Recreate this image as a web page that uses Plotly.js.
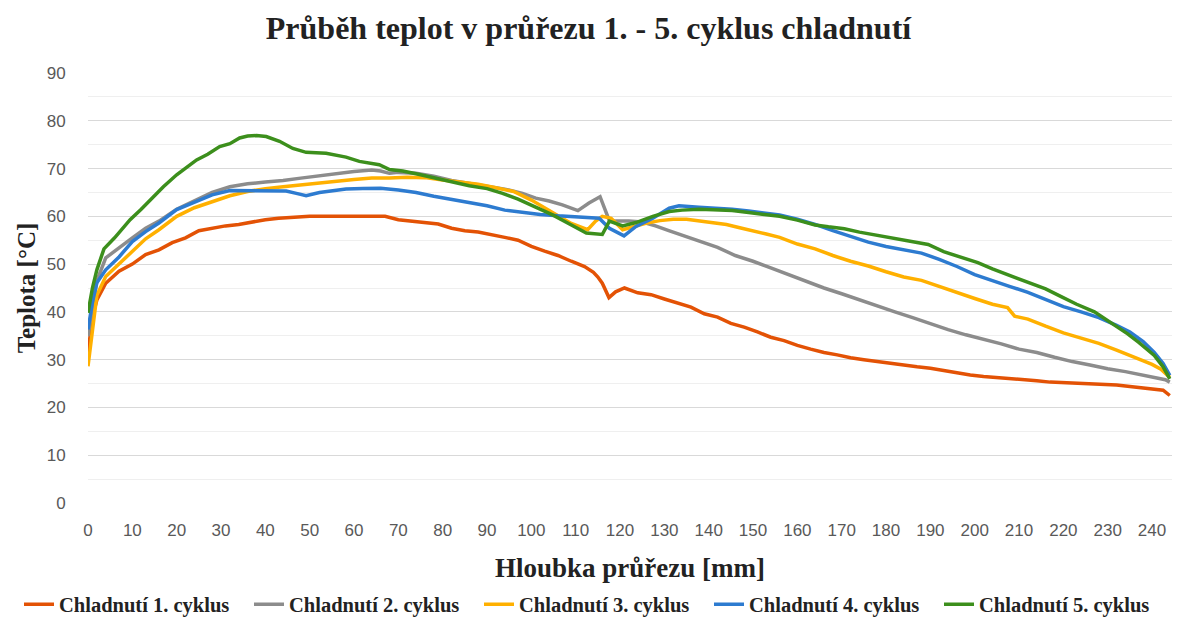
<!DOCTYPE html>
<html>
<head>
<meta charset="utf-8">
<script src="https://cdn.plot.ly/plotly-3.0.1.min.js"></script>
<style>
  html, body { margin: 0; padding: 0; background: #ffffff; }
  #chart { width: 1177px; height: 617px; }
</style>
</head>
<body>
<div id="chart"></div>
<script>
// ---- data ----
const seriesNames = ["Chladnutí 1. cyklus", "Chladnutí 2. cyklus", "Chladnutí 3. cyklus", "Chladnutí 4. cyklus", "Chladnutí 5. cyklus"];
const seriesColors = ["#E35205", "#8C8C8C", "#FFB000", "#2D7BD0", "#3C8F1C"];

const depth1 = [0,1,2,4,7,10,13,16,19,22,25,28,31,34,37,40,43,47,50,55,60,65,67,70,73,76,79,82,85,88,91,94,97,100,103,106,109,112,114,115,116,117.5,119,121,124,127,130,133,136,139,142,145,148,151,154,157,160,163,166,169,172,175,178,181,184,187,190,193,196,199,202,205,208,211,214,217,220,223,226,229,232,235,238,241,242.5,244];
const temp1 = [31.4,39,42.5,46,48.5,50,52,53,54.5,55.5,57,57.5,58,58.3,58.8,59.3,59.6,59.8,60,60,60,60,60,59.3,59,58.8,58.4,57.5,57,56.7,56.2,55.6,55,53.7,52.7,51.8,50.6,49.5,48.3,47.3,46,43,44.2,45,44,43.6,42.7,41.9,41,39.6,38.9,37.6,36.8,35.8,34.7,34,33,32.2,31.5,31,30.4,30,29.6,29.2,28.8,28.5,28.2,27.7,27.3,26.8,26.5,26.3,26,25.8,25.6,25.3,25.2,25,24.9,24.8,24.7,24.4,24.1,23.9,23.6,22.5];

const depth2 = [0,1,2,4,7,10,13,16,20,24,28,32,36,40,44,48,52,56,60,64,66,68,70,74,78,82,86,90,94,98,101,104,107,110.5,113,115.5,117.5,119,122,125,128,131,134,138,142,146,150,154,158,162,166,170,174,178,182,186,190,194,198,202,206,210,214,218,222,226,230,234,238,241,243,244];
const temp2 = [34.9,41,46.5,51.3,53.5,55.5,57.5,59,61.5,63.2,65,66.2,66.8,67.2,67.5,68,68.5,69,69.4,69.7,69.5,69,69.2,69,68.4,67.5,66.9,66.3,65.7,64.8,63.8,63.2,62.4,61.2,62.8,64.1,59.3,59,59,58.8,58,57,56,54.8,53.5,51.8,50.6,49.2,47.8,46.5,45,43.8,42.5,41.2,40,38.8,37.5,36.3,35.2,34.3,33.3,32.2,31.5,30.5,29.6,28.9,28.1,27.5,26.8,26.3,25.8,25.3];

const depth3 = [0,1,2,4,7,10,13,16,20,24,28,32,36,40,44,48,52,56,60,64,68,72,76,80,84,88,92,96,100,103,106,109,112.7,114.5,116,118,120.6,123,126,129,132,135,138,141,144,147,150,153,156,160,164,168,172,176,180,184,188,192,196,200,204,207.4,209,212,216,220,224,228,232,236,240,242,244];
const temp3 = [28.6,36,43.5,47.4,50,52.8,55.3,57.2,60,61.8,63,64.3,65.2,65.8,66.2,66.6,66.9,67.3,67.7,68,68,68.2,68.1,67.6,67.2,66.7,66,65.2,63.4,61.8,60.2,58.5,57.2,59,60,59.6,57.2,57.8,58.6,59.1,59.4,59.4,59,58.6,58.3,57.6,57,56.3,55.6,54.2,53.2,51.8,50.6,49.6,48.4,47.3,46.6,45.3,44,42.8,41.6,40.9,39.1,38.5,37,35.6,34.5,33.4,32,30.5,29,28,26.3];

const depth4 = [0,1,2,4,7,10,13,16,20,24,28,32,36,40,44.7,47,49.2,52.2,55,58.2,62,66,70,74,78,82,86,90,94,98,102,106,110,113,115.3,117.6,120.9,123.6,127.4,131.1,133.3,137.8,141,145.3,149,152.8,156,160,164,168,172,176,180,184,188,192,196,200,204,208,212,216,220,224,228,232,235,238,240.5,242.5,244];
const temp4 = [36.3,42,46.1,48.8,51.5,54.7,56.8,58.6,61.4,62.9,64.5,65.4,65.4,65.4,65.3,64.8,64.3,65,65.3,65.7,65.8,65.9,65.5,65,64.2,63.5,62.8,62.2,61.3,60.8,60.4,60.1,59.9,59.8,59.6,57.5,55.9,57.9,59.6,61.7,62.2,61.9,61.8,61.5,61.1,60.7,60.3,59.4,58.3,57,55.8,54.6,53.7,53,52.3,51,49.5,47.8,46.5,45.3,44.1,42.6,41.1,40,38.8,37.2,35.8,33.8,31.5,29.2,26.7];

const depth5 = [0,1,2,3.6,6,9.5,12,14.8,17,20,22,24.5,27,29.7,32,34.2,36,38,40.2,43.2,46.2,49.2,53.7,58.2,61.2,65.7,68,71,74.5,78.5,82,86,90,93.5,97,101,104.8,108.6,112.4,116,117.6,120.6,123.6,127.4,131.1,134,137.8,141,145.3,149,152.8,156,160,164,167,170.6,174,178,182,186,189.5,193,197,200.7,204,208,212,216,219.5,223,227,231,234.5,237,239,240.5,242.5,244];
const temp5 = [39.8,45,48.8,53.2,55.5,59.3,61.5,64.1,66.2,68.7,70,71.8,73,74.6,75.2,76.4,76.8,76.9,76.7,75.7,74.2,73.4,73.2,72.4,71.5,70.8,69.8,69.5,68.8,68,67.2,66.4,65.8,64.8,63.6,62,60.3,58.4,56.5,56.2,59,58,58.7,60,61,61.3,61.5,61.4,61.2,60.8,60.3,60,59.2,58.2,57.8,57.4,56.7,56,55.3,54.6,54.1,52.6,51.5,50.3,49,47.6,46.3,44.8,43.2,41.6,40,37.6,35.4,33.6,32,30.9,28.5,26];

const xTickVals = [0,10,20,30,40,50,60,70,80,90,100,110,120,130,140,150,160,170,180,190,200,210,220,230,240];
const yTickVals = [0,10,20,30,40,50,60,70,80,90];

const chartTitle = "Průběh teplot v průřezu 1. - 5. cyklus chladnutí";
const xTitle = "Hloubka průřezu [mm]";
const yTitle = "Teplota [°C]";

// ---- build traces ----
const depths = [depth1, depth2, depth3, depth4, depth5];
const temps = [temp1, temp2, temp3, temp4, temp5];
const traces = seriesNames.map((name, i) => ({
  type: "scatter",
  mode: "lines",
  name: name,
  x: depths[i],
  y: temps[i],
  line: { color: seriesColors[i], width: 3.5, shape: "linear" },
  hoverinfo: "skip"
}));

const serif = "'Liberation Serif', 'Times New Roman', serif";
const sans = "'Liberation Sans', Arial, sans-serif";

const layout = {
  width: 1177,
  height: 617,
  paper_bgcolor: "#ffffff",
  plot_bgcolor: "#ffffff",
  margin: { l: 88, r: 5, t: 73, b: 114, pad: 0, autoexpand: false },
  showlegend: true,
  title: {
    text: chartTitle,
    font: { family: serif, size: 32, color: "#222222", weight: "bold" },
    xref: "container", x: 0.5, xanchor: "center",
    yref: "container", y: 1 - 28 / 617, yanchor: "middle"
  },
  xaxis: {
    range: [0, 244.5],
    tickvals: xTickVals,
    ticktext: xTickVals.map(String),
    showgrid: false,
    zeroline: false,
    showline: false,
    ticks: "outside",
    ticklen: 12,
    tickcolor: "rgba(0,0,0,0)",
    tickfont: { family: sans, size: 17, color: "#595959" },
    title: {
      text: xTitle,
      font: { family: serif, size: 27, color: "#222222", weight: "bold" },
      standoff: 18
    }
  },
  yaxis: {
    range: [0, 90],
    tickvals: yTickVals,
    ticktext: yTickVals.map(String),
    showgrid: true,
    gridcolor: "#d9d9d9",
    gridwidth: 1,
    zeroline: false,
    showline: false,
    ticks: "outside",
    ticklen: 18,
    tickcolor: "rgba(0,0,0,0)",
    tickfont: { family: sans, size: 17, color: "#595959" },
    minor: { dtick: 5, tick0: 0, showgrid: true, gridcolor: "#efefef", gridwidth: 1, ticks: "" },
    title: {
      text: yTitle,
      font: { family: serif, size: 25, color: "#222222", weight: "bold" },
      standoff: 3
    }
  },
  legend: {
    orientation: "h",
    xref: "paper", x: (19 - 88) / 1084, xanchor: "left",
    yref: "paper", y: -(605 - 503.5) / 430, yanchor: "middle",
    font: { family: serif, size: 20.5, color: "#222222", weight: "bold" },
    entrywidth: 185,
    entrywidthmode: "pixels",
    bgcolor: "rgba(0,0,0,0)",
    borderwidth: 0
  }
};

Plotly.newPlot("chart", traces, layout, { staticPlot: true, displayModeBar: false });
</script>
</body>
</html>
